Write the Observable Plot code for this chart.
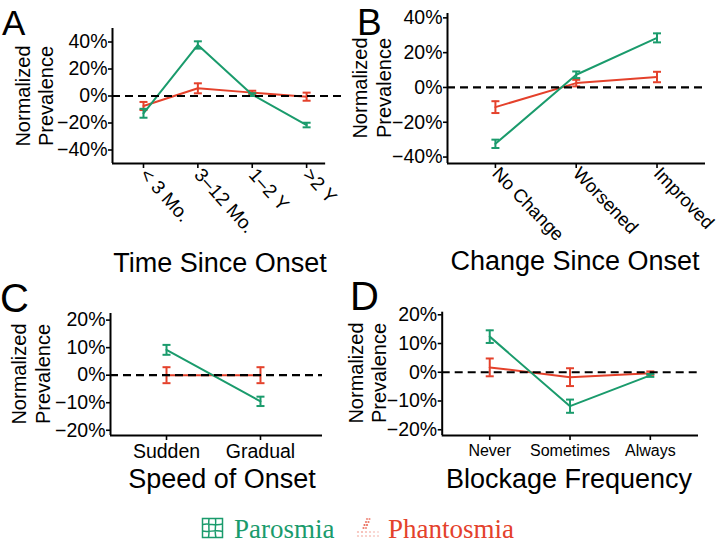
<!DOCTYPE html>
<html><head><meta charset="utf-8">
<script src="https://cdn.jsdelivr.net/npm/d3@7"></script>
<script src="https://cdn.jsdelivr.net/npm/@observablehq/plot@0.6"></script>
<style>
body{margin:0;background:#fff;}
#fig{position:relative;width:720px;height:543px;overflow:hidden;font-family:"Liberation Sans",Arial,sans-serif;background:#fff;}
#fig > svg{position:absolute;}
</style></head><body><div id="fig"></div>
<script>
// ---------- data ----------
const timeCats = ["< 3 Mo.", "3–12 Mo.", "1–2 Y", ">2 Y"];
const timeParosmia = [-12.8, 37.8, 1.0, -21.5];
const timeParosmiaErr = [3.3, 2.7, 1.0, 1.7];
const timePhantosmia = [-7.4, 5.7, 2.5, -0.5];
const timePhantosmiaErr = [3.0, 3.7, 1.4, 3.0];

const changeCats = ["No Change", "Worsened", "Improved"];
const changeParosmia = [-32.4, 7.3, 28.5];
const changeParosmiaErr = [2.4, 1.9, 2.6];
const changePhantosmia = [-11.3, 2.5, 6.0];
const changePhantosmiaErr = [3.4, 1.9, 3.0];

const speedCats = ["Sudden", "Gradual"];
const speedParosmia = [9.2, -9.5];
const speedParosmiaErr = [1.8, 1.7];
const speedPhantosmia = [0.0, 0.0];
const speedPhantosmiaErr = [2.9, 2.9];

const blockCats = ["Never", "Sometimes", "Always"];
const blockParosmia = [12.4, -11.8, -1.1];
const blockParosmiaErr = [2.2, 2.3, 0.5];
const blockPhantosmia = [1.7, -1.7, -0.3];
const blockPhantosmiaErr = [3.1, 3.1, 0.6];

const ticks40 = [-40, -20, 0, 20, 40];
const ticks20 = [-20, -10, 0, 10, 20];

const GREEN = "#1a9b6c", RED = "#e4412b";
const fig = document.getElementById("fig");

const capSymbol = {
  draw(ctx, size) {
    const w = Math.sqrt(size / Math.PI);
    ctx.moveTo(-w, 0); ctx.lineTo(w, 0);
  }
};

function rows(cats, vals, errs) {
  return cats.map((c, i) => ({i, v: vals[i], e: errs[i]}));
}

function seriesMarks(data, color) {
  return [
    Plot.line(data, {x: "i", y: "v", stroke: color, strokeWidth: 2}),
    Plot.ruleX(data, {x: "i", y1: d => d.v - d.e, y2: d => d.v + d.e, stroke: color, strokeWidth: 2}),
    Plot.dot(data, {x: "i", y: d => d.v - d.e, symbol: capSymbol, r: 4, stroke: color, fill: "none", strokeWidth: 2}),
    Plot.dot(data, {x: "i", y: d => d.v + d.e, symbol: capSymbol, r: 4, stroke: color, fill: "none", strokeWidth: 2})
  ];
}

function panel(o) {
  const par = rows(o.cats, o.par, o.parErr);
  const pha = rows(o.cats, o.pha, o.phaErr);
  const p = Plot.plot({
    width: o.width, height: o.height,
    marginLeft: o.mL, marginRight: o.mR, marginTop: o.mT, marginBottom: o.mB,
    style: {background: "transparent", overflow: "visible", fontFamily: "Liberation Sans, Arial, sans-serif", color: "black"},
    x: {domain: o.xDomain},
    y: {domain: o.yDomain},
    marks: [
      seriesMarks(pha, RED),
      seriesMarks(par, GREEN),
      Plot.ruleY([0], {stroke: "black", strokeWidth: 2.2, strokeDasharray: "8,5"}),
      Plot.ruleX([o.xDomain[0]], {stroke: "black", strokeWidth: 2}),
      Plot.ruleY([{y: o.yDomain[0], x1: o.xDomain[0], x2: o.axisEnd}], {y: "y", x1: "x1", x2: "x2", stroke: "black", strokeWidth: 2}),
      Plot.axisY({ticks: o.yTicks, tickFormat: d => (d < 0 ? "\u2212" + (-d) : d) + "%", tickSize: 4, tickPadding: 1, fontSize: o.yFont, strokeWidth: 1.6, label: null}),
      Plot.axisX({ticks: d3.range(o.cats.length), tickFormat: i => o.cats[i], tickSize: 5, tickPadding: o.xPad, tickRotate: o.rotate, fontSize: o.xFont, strokeWidth: 1.6, label: null})
    ]
  });
  p.style.left = o.left + "px";
  p.style.top = o.top + "px";
  fig.appendChild(p);
}

panel({cats: timeCats, par: timeParosmia, parErr: timeParosmiaErr, pha: timePhantosmia, phaErr: timePhantosmiaErr,
  xDomain: [-0.57, 3.66], axisEnd: 3.35, yDomain: [-50, 50], yTicks: ticks40,
  left: 0, top: 0, width: 350, height: 250, mL: 112, mR: 8, mT: 28, mB: 87,
  yFont: 19.5, xFont: 19, rotate: 48, xPad: 3});

panel({cats: changeCats, par: changeParosmia, parErr: changeParosmiaErr, pha: changePhantosmia, phaErr: changePhantosmiaErr,
  xDomain: [-0.593, 2.6], axisEnd: 2.6, yDomain: [-43.7, 42.5], yTicks: ticks40,
  left: 360, top: 0, width: 350, height: 250, mL: 87, mR: 5, mT: 13, mB: 87,
  yFont: 19.5, xFont: 18.5, rotate: 46, xPad: 2});

panel({cats: speedCats, par: speedParosmia, parErr: speedParosmiaErr, pha: speedPhantosmia, phaErr: speedPhantosmiaErr,
  xDomain: [-0.596, 1.66], axisEnd: 1.66, yDomain: [-21.9, 22.4], yTicks: ticks20,
  left: 0, top: 280, width: 340, height: 200, mL: 110, mR: 18, mT: 33, mB: 45,
  yFont: 19.5, xFont: 19.5, rotate: 0, xPad: 4});

panel({cats: blockCats, par: blockParosmia, parErr: blockParosmiaErr, pha: blockPhantosmia, phaErr: blockPhantosmiaErr,
  xDomain: [-0.592, 2.6], axisEnd: 2.6, yDomain: [-22, 20.9], yTicks: ticks20,
  left: 360, top: 280, width: 350, height: 200, mL: 81.7, mR: 12, mT: 31.7, mB: 45,
  yFont: 19.5, xFont: 16, rotate: 0, xPad: 4});

// ---------- overlay text ----------
const ov = d3.select(fig).append("svg").attr("width", 720).attr("height", 543)
  .style("left", "0px").style("top", "0px").style("pointer-events", "none")
  .style("font-family", "Liberation Sans, Arial, sans-serif");

const letters = [["A", 2, 35, 35], ["B", 357, 35, 37], ["C", 0, 312, 40], ["D", 350, 310, 40]];
ov.selectAll("text.letter").data(letters).join("text").attr("class", "letter")
  .attr("x", d => d[1]).attr("y", d => d[2]).attr("font-size", d => d[3]).text(d => d[0]);

const titles = [["Time Since Onset", 220, 272], ["Change Since Onset", 575, 270],
                ["Speed of Onset", 222, 488], ["Blockage Frequency", 569, 488]];
ov.selectAll("text.title").data(titles).join("text").attr("class", "title")
  .attr("x", d => d[1]).attr("y", d => d[2]).attr("font-size", 27).attr("text-anchor", "middle").text(d => d[0]);

const ylabels = [[30, 53, 96], [367, 391, 88], [26, 50, 374], [363, 386, 373]];
ylabels.forEach(([x1, x2, cy]) => {
  ov.append("text").attr("transform", `translate(${x1},${cy}) rotate(-90)`).attr("text-anchor", "middle").attr("font-size", 20).text("Normalized");
  ov.append("text").attr("transform", `translate(${x2},${cy}) rotate(-90)`).attr("text-anchor", "middle").attr("font-size", 20).text("Prevalence");
});

// legend
const lg = ov.append("g");
const ic = lg.append("g").attr("transform", "translate(202,518)").attr("fill", "none").attr("stroke", GREEN).attr("stroke-width", 1.5);
ic.append("rect").attr("x", 0.5).attr("y", 0.5).attr("width", 20).attr("height", 19);
ic.append("path").attr("d", "M7,0.5 C6,6 8,12 6.5,19.5 M13.5,0.5 C14.5,6 12,13 14,19.5 M0.5,6.5 C7,5 14,8 20.5,6 M0.5,13 C6,14.5 14,11.5 20.5,13.5");
const dots = [[12,0,0.6],[14.5,0,0.6],[11,3,0.7],[13.5,3,0.7],[9.5,6,0.8],[12,6,0.8],[8.5,9,0.7],[11,9,0.6],
  [3,13,0.35],[7,13,0.4],[11,13,0.35],[15,13,0.3],[3,17,0.3],[7,17,0.3],[11,17,0.3],[15,17,0.3],[19,17,0.25],[23,17,0.25],[19,13,0.25],[23,13,0.2]];
lg.append("g").attr("transform", "translate(355,519)").selectAll("circle").data(dots).join("circle")
  .attr("cx", d => d[0]).attr("cy", d => d[1]).attr("r", 1.1).attr("fill", RED).attr("opacity", d => d[2]);
lg.append("text").attr("x", 234).attr("y", 538).attr("font-family", "Liberation Serif, Times New Roman, serif").attr("font-size", 27).attr("fill", GREEN).text("Parosmia");
lg.append("text").attr("x", 388).attr("y", 538).attr("font-family", "Liberation Serif, Times New Roman, serif").attr("font-size", 27).attr("fill", RED).text("Phantosmia");
</script></body></html>
